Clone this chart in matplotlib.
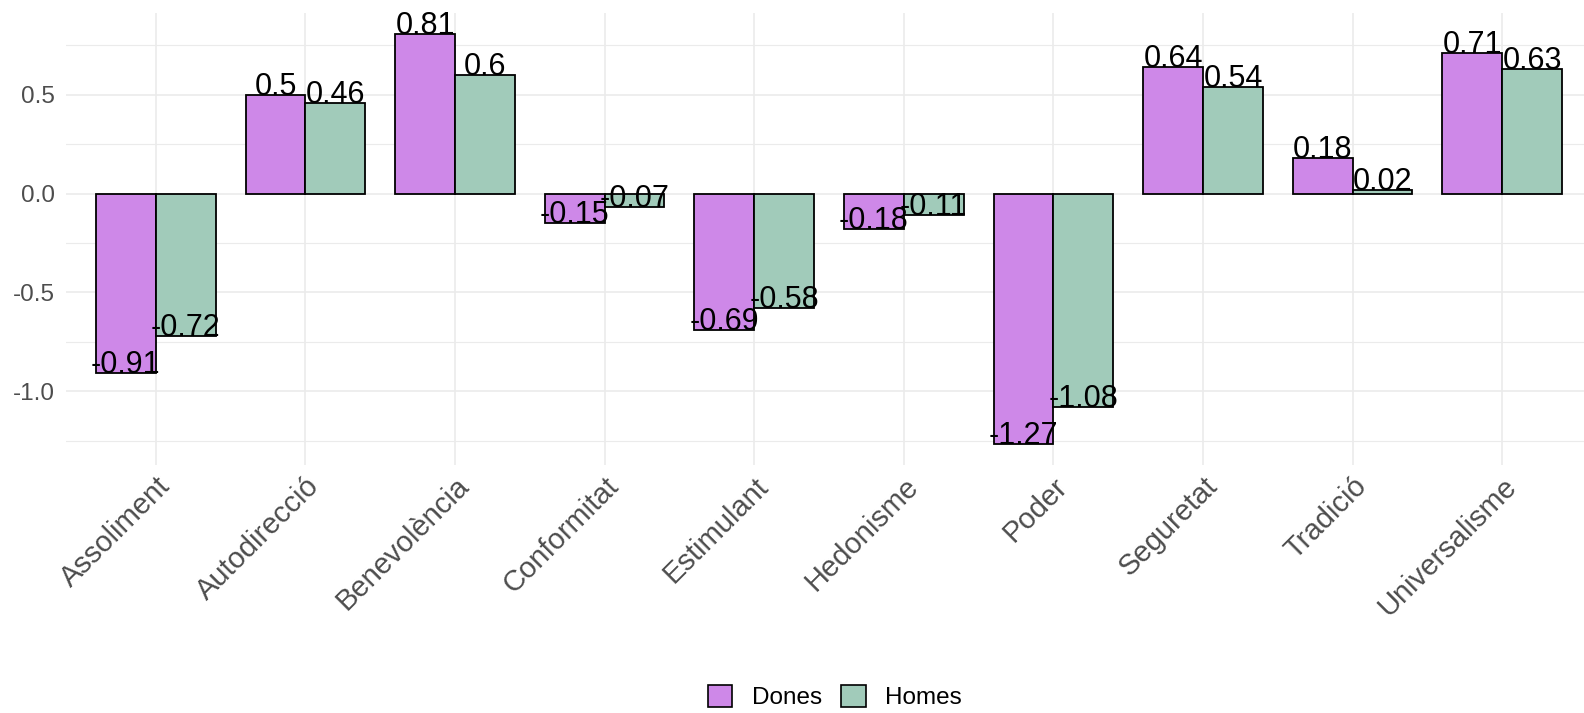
import numpy as np
import matplotlib
matplotlib.use("Agg")
from matplotlib import pyplot as plt
from matplotlib.patches import Patch

plt.rcParams['font.family'] = ['Liberation Sans', 'DejaVu Sans']
plt.rcParams['axes.unicode_minus'] = False

# Data
categories = ["Assoliment", "Autodirecció", "Benevolència", "Conformitat", "Estimulant",
              "Hedonisme", "Poder", "Seguretat", "Tradició", "Universalisme"]
dones = [-0.91, 0.5, 0.81, -0.15, -0.69, -0.18, -1.27, 0.64, 0.18, 0.71]
homes = [-0.72, 0.46, 0.6, -0.07, -0.58, -0.11, -1.08, 0.54, 0.02, 0.63]
series_names = ["Dones", "Homes"]
y_ticks = [-1.0, -0.5, 0.0, 0.5]
y_minor = [-1.25, -0.75, -0.25, 0.25, 0.75]

col_dones = "#CE88E8"
col_homes = "#A1CBBA"
grid_col = "#EBEBEB"

fig = plt.figure(figsize=(15.84, 7.13), dpi=100)
ax = fig.add_axes([66 / 1584, 1 - 465 / 713, 1526 / 1584, 452 / 713])

x = np.arange(len(categories))
w = 0.4

ax.bar(x - w / 2, dones, width=w, color=col_dones, edgecolor="black", linewidth=1.3, zorder=3)
ax.bar(x + w / 2, homes, width=w, color=col_homes, edgecolor="black", linewidth=1.3, zorder=3)

# value labels, baseline at the bar end
for xs, vals in [(x - w / 2, dones), (x + w / 2, homes)]:
    for xi, v in zip(xs, vals):
        ax.text(xi, v, f"{v:g}", ha="center", va="baseline", fontsize=22, color="black", zorder=4)

# scales like ggplot defaults
allv = dones + homes
lo, hi = min(allv), max(allv)
pad = 0.05 * (hi - lo)
ax.set_ylim(lo - pad, hi + pad)
ax.set_xlim(-0.6, len(categories) - 0.4)

ax.set_yticks(y_ticks)
ax.set_yticklabels([f"{t:.1f}" for t in y_ticks])
ax.set_yticks(y_minor, minor=True)
ax.set_xticks(x)
ax.set_xticklabels(categories, rotation=45, ha="right", va="top", rotation_mode="anchor")

ax.tick_params(axis="both", which="both", length=0, labelcolor="#4D4D4D")
ax.tick_params(axis="y", pad=8, labelsize=17.5)
ax.tick_params(axis="x", pad=5, labelsize=21)

ax.grid(True, which="major", axis="both", color=grid_col, linewidth=1.2, zorder=0)
ax.grid(True, which="minor", axis="y", color=grid_col, linewidth=0.8, zorder=0)
for s in ax.spines.values():
    s.set_visible(False)

handles = [Patch(facecolor=col_dones, edgecolor="black", linewidth=1.2),
           Patch(facecolor=col_homes, edgecolor="black", linewidth=1.2)]
fig.legend(handles, series_names, loc="center", bbox_to_anchor=(835 / 1584, 1 - 697 / 713),
           ncol=2, frameon=False, fontsize=17.5, handlelength=1.0, handleheight=1.0,
           handletextpad=0.8, columnspacing=0.8)

fig.savefig("out.png", dpi=100)
